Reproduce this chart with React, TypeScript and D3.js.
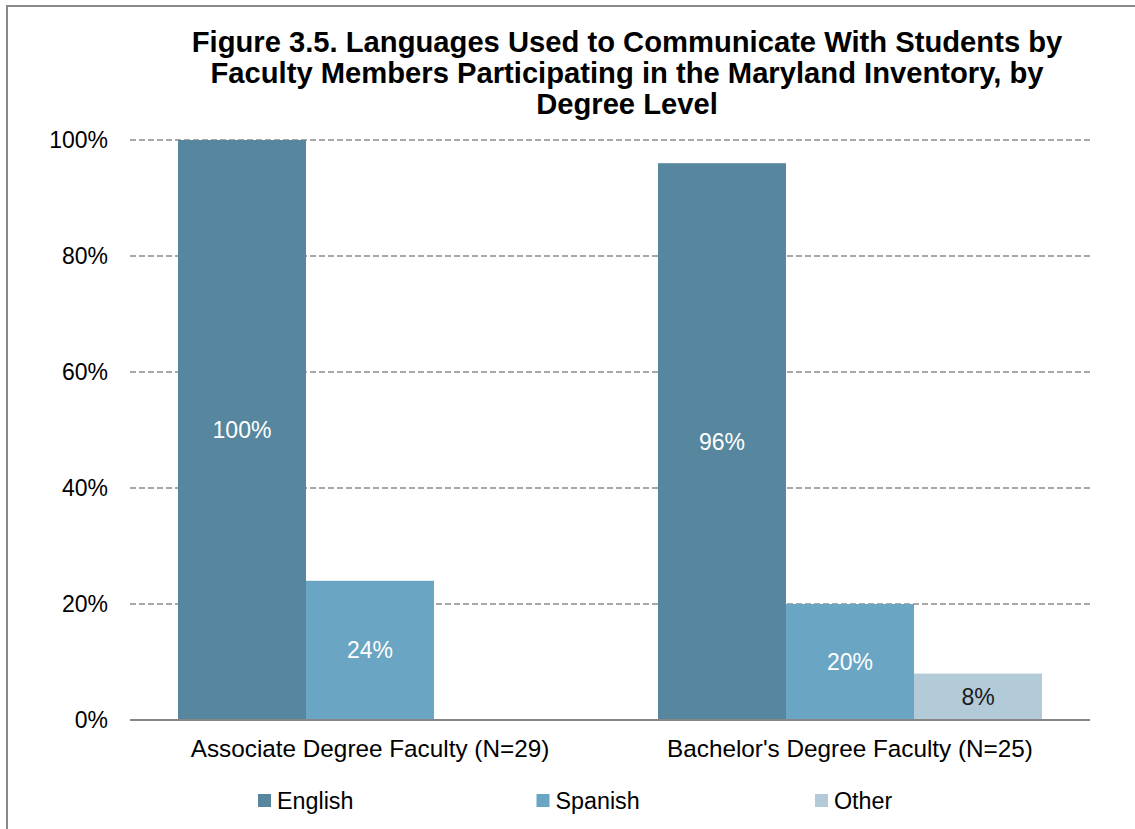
import { useMemo } from 'react';
import * as d3 from 'd3';

const titleLines = [
  'Figure 3.5. Languages Used to Communicate With Students by',
  'Faculty Members Participating in the Maryland Inventory, by',
  'Degree Level',
];

const categories = ['Associate Degree Faculty (N=29)', "Bachelor's Degree Faculty (N=25)"];
const series = ['English', 'Spanish', 'Other'];
const seriesColors = ['#56879e', '#6aa5c3', '#b3cbd9'];
const labelColors = ['#ffffff', '#ffffff', '#1a1a1a'];

// values per category, in series order (null = no bar)
const associateValues = [1.0, 0.24, null];
const bachelorValues = [0.96, 0.2, 0.08];

const yTicks = [0, 0.2, 0.4, 0.6, 0.8, 1.0];

const W = 1135;
const H = 829;
const plot = { left: 130, right: 1090, top: 140, bottom: 720 };
const FONT = '"Liberation Sans", Arial, sans-serif';

export default function App() {
  const rows = useMemo(
    () => [
      { cat: categories[0], values: associateValues },
      { cat: categories[1], values: bachelorValues },
    ],
    []
  );

  const x0 = d3.scaleBand<string>().domain(categories).range([plot.left, plot.right]).padding(0);
  const x1 = d3
    .scaleBand<string>()
    .domain(series)
    .range([0, x0.bandwidth()])
    .paddingInner(0)
    .paddingOuter(0.375);
  const y = d3.scaleLinear().domain([0, 1]).range([plot.bottom, plot.top]);
  const fmt = d3.format('.0%');

  const legendX = d3.scaleBand<string>().domain(series).range([258, 258 + 3 * 278.5]);
  const color = d3.scaleOrdinal<string, string>().domain(series).range(seriesColors);

  return (
    <svg
      width={W}
      height={H}
      style={{ position: 'absolute', left: 0, top: 0, fontFamily: FONT }}
    >
      <rect x={0} y={0} width={W} height={H} fill="#fff" />
      {/* chart frame (right/bottom cut off) */}
      <rect x={7} y={6} width={W + 20} height={H + 20} fill="none" stroke="#8a8a8a" strokeWidth={2} />

      {titleLines.map((t, i) => (
        <text
          key={i}
          x={627}
          y={52 + i * 31}
          textAnchor="middle"
          fontSize={29.2}
          fontWeight="bold"
          fill="#000"
        >
          {t}
        </text>
      ))}

      {/* gridlines */}
      {yTicks
        .filter((t) => t > 0)
        .map((t) => (
          <line
            key={t}
            x1={plot.left}
            x2={plot.right}
            y1={y(t)}
            y2={y(t)}
            stroke="#8c8c8c"
            strokeWidth={1.3}
            strokeDasharray="6,3"
          />
        ))}

      {/* y tick labels */}
      {yTicks.map((t) => (
        <text
          key={t}
          x={108}
          y={y(t)}
          dy="0.35em"
          textAnchor="end"
          fontSize={23}
          fill="#000"
        >
          {fmt(t)}
        </text>
      ))}

      {/* bars */}
      {rows.map((r) => (
        <g key={r.cat} transform={`translate(${x0(r.cat)},0)`}>
          {r.values.map((v, i) =>
            v == null ? null : (
              <g key={series[i]}>
                <rect
                  x={x1(series[i])}
                  y={y(v)}
                  width={x1.bandwidth()}
                  height={y(0) - y(v)}
                  fill={color(series[i])}
                />
                <text
                  x={(x1(series[i]) ?? 0) + x1.bandwidth() / 2}
                  y={(y(v) + y(0)) / 2}
                  dy="0.35em"
                  textAnchor="middle"
                  fontSize={23}
                  fill={labelColors[i]}
                >
                  {fmt(v)}
                </text>
              </g>
            )
          )}
        </g>
      ))}

      {/* baseline */}
      <line x1={plot.left} x2={plot.right} y1={y(0)} y2={y(0)} stroke="#868686" strokeWidth={2} />

      {/* category labels */}
      {categories.map((c) => (
        <text
          key={c}
          x={(x0(c) ?? 0) + x0.bandwidth() / 2}
          y={748}
          dy="0.35em"
          textAnchor="middle"
          fontSize={24.3}
          fill="#000"
        >
          {c}
        </text>
      ))}

      {/* legend */}
      {series.map((s) => (
        <g key={s} transform={`translate(${legendX(s)},0)`}>
          <rect x={0} y={794} width={13} height={13} fill={color(s)} />
          <text x={19} y={800.5} dy="0.35em" fontSize={23.3} fill="#000">
            {s}
          </text>
        </g>
      ))}
    </svg>
  );
}
